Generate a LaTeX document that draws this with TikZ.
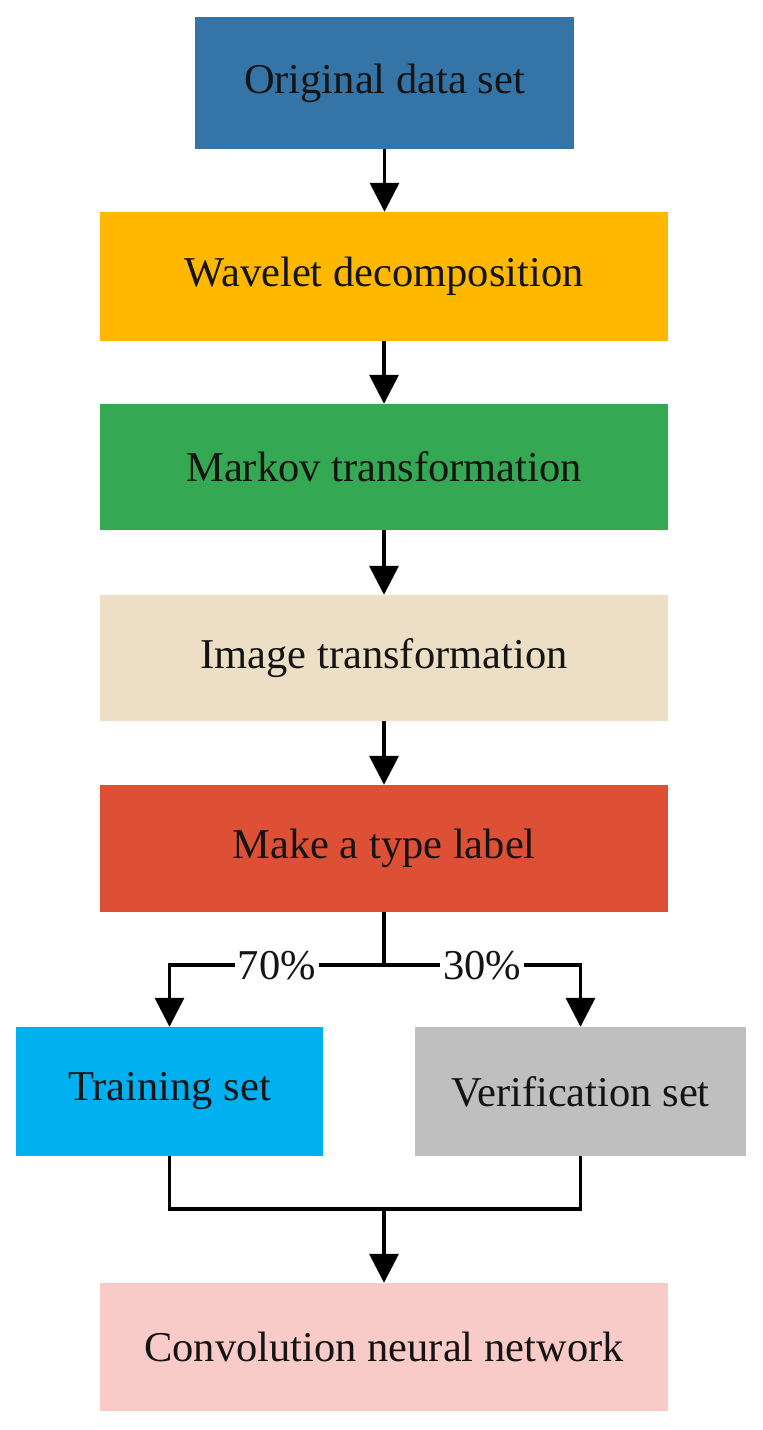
\documentclass[tikz,border=0pt]{standalone}
\usepackage{fontspec}
\setmainfont{Liberation Serif}
\usetikzlibrary{arrows.meta,calc}
\definecolor{cblue}{HTML}{3474A7}
\definecolor{cgold}{HTML}{FFB800}
\definecolor{cgreen}{HTML}{35A853}
\definecolor{cbeige}{HTML}{EDDFC5}
\definecolor{cred}{HTML}{DD5035}
\definecolor{ccyan}{HTML}{00B0F0}
\definecolor{cgray}{HTML}{BFBFBF}
\definecolor{cpink}{HTML}{F8CBC8}
\definecolor{ctext}{HTML}{141414}
\begin{document}
\begin{tikzpicture}[x=1pt,y=-1pt,
  box/.style={draw=none,rectangle,inner sep=0pt,text=ctext,font=\fontsize{42.5}{50}\selectfont},
  conn/.style={line width=3.5pt,draw=black},
  arr/.style={conn,-{Triangle[width=29pt,length=29pt]}},
  lbl/.style={fill=white,inner sep=3pt,text=ctext,font=\fontsize{42.5}{50}\selectfont}]
\useasboundingbox[fill=white] (0,0) rectangle (763,1430);
\node[box,fill=cblue,minimum width=379pt,minimum height=132pt] (b1) at (384.5,83) {Original data set};
\node[box,fill=cgold,minimum width=568pt,minimum height=129pt] (b2) at (384,276.5) {Wavelet decomposition};
\node[box,fill=cgreen,minimum width=568pt,minimum height=126pt] (b3) at (384,467) {Markov transformation};
\node[box,fill=cbeige,minimum width=568pt,minimum height=126pt] (b4) at (384,658) {Image transformation};
\node[box,fill=cred,minimum width=568pt,minimum height=127pt] (b5) at (384,848.5) {Make a type label};
\node[box,fill=ccyan,minimum width=307pt,minimum height=129pt] (b6) at (169.5,1091.5) {Training set};
\node[box,fill=cgray,minimum width=331pt,minimum height=129pt] (b7) at (580.5,1091.5) {Verification set};
\node[box,fill=cpink,minimum width=568pt,minimum height=128pt] (b8) at (384,1347) {Convolution neural network};
\draw[arr] (b1.south) -- (b1.south |- b2.north);
\draw[arr] (b2.south) -- (b3.north);
\draw[arr] (b3.south) -- (b4.north);
\draw[arr] (b4.south) -- (b5.north);
\draw[conn] (b5.south) -- ++(0,53) coordinate (j1);
\draw[arr] (j1) -- node[lbl] {70\%} (j1 -| b6.north) -- (b6.north);
\draw[arr] (j1) -- node[lbl] {30\%} (j1 -| b7.north) -- (b7.north);
\draw[conn] (b6.south) -- ++(0,53) coordinate (j2) -| (b7.south);
\coordinate (j3) at (j2 -| b8.north);
\draw[arr] (j3) -- (b8.north);
\end{tikzpicture}
\end{document}
